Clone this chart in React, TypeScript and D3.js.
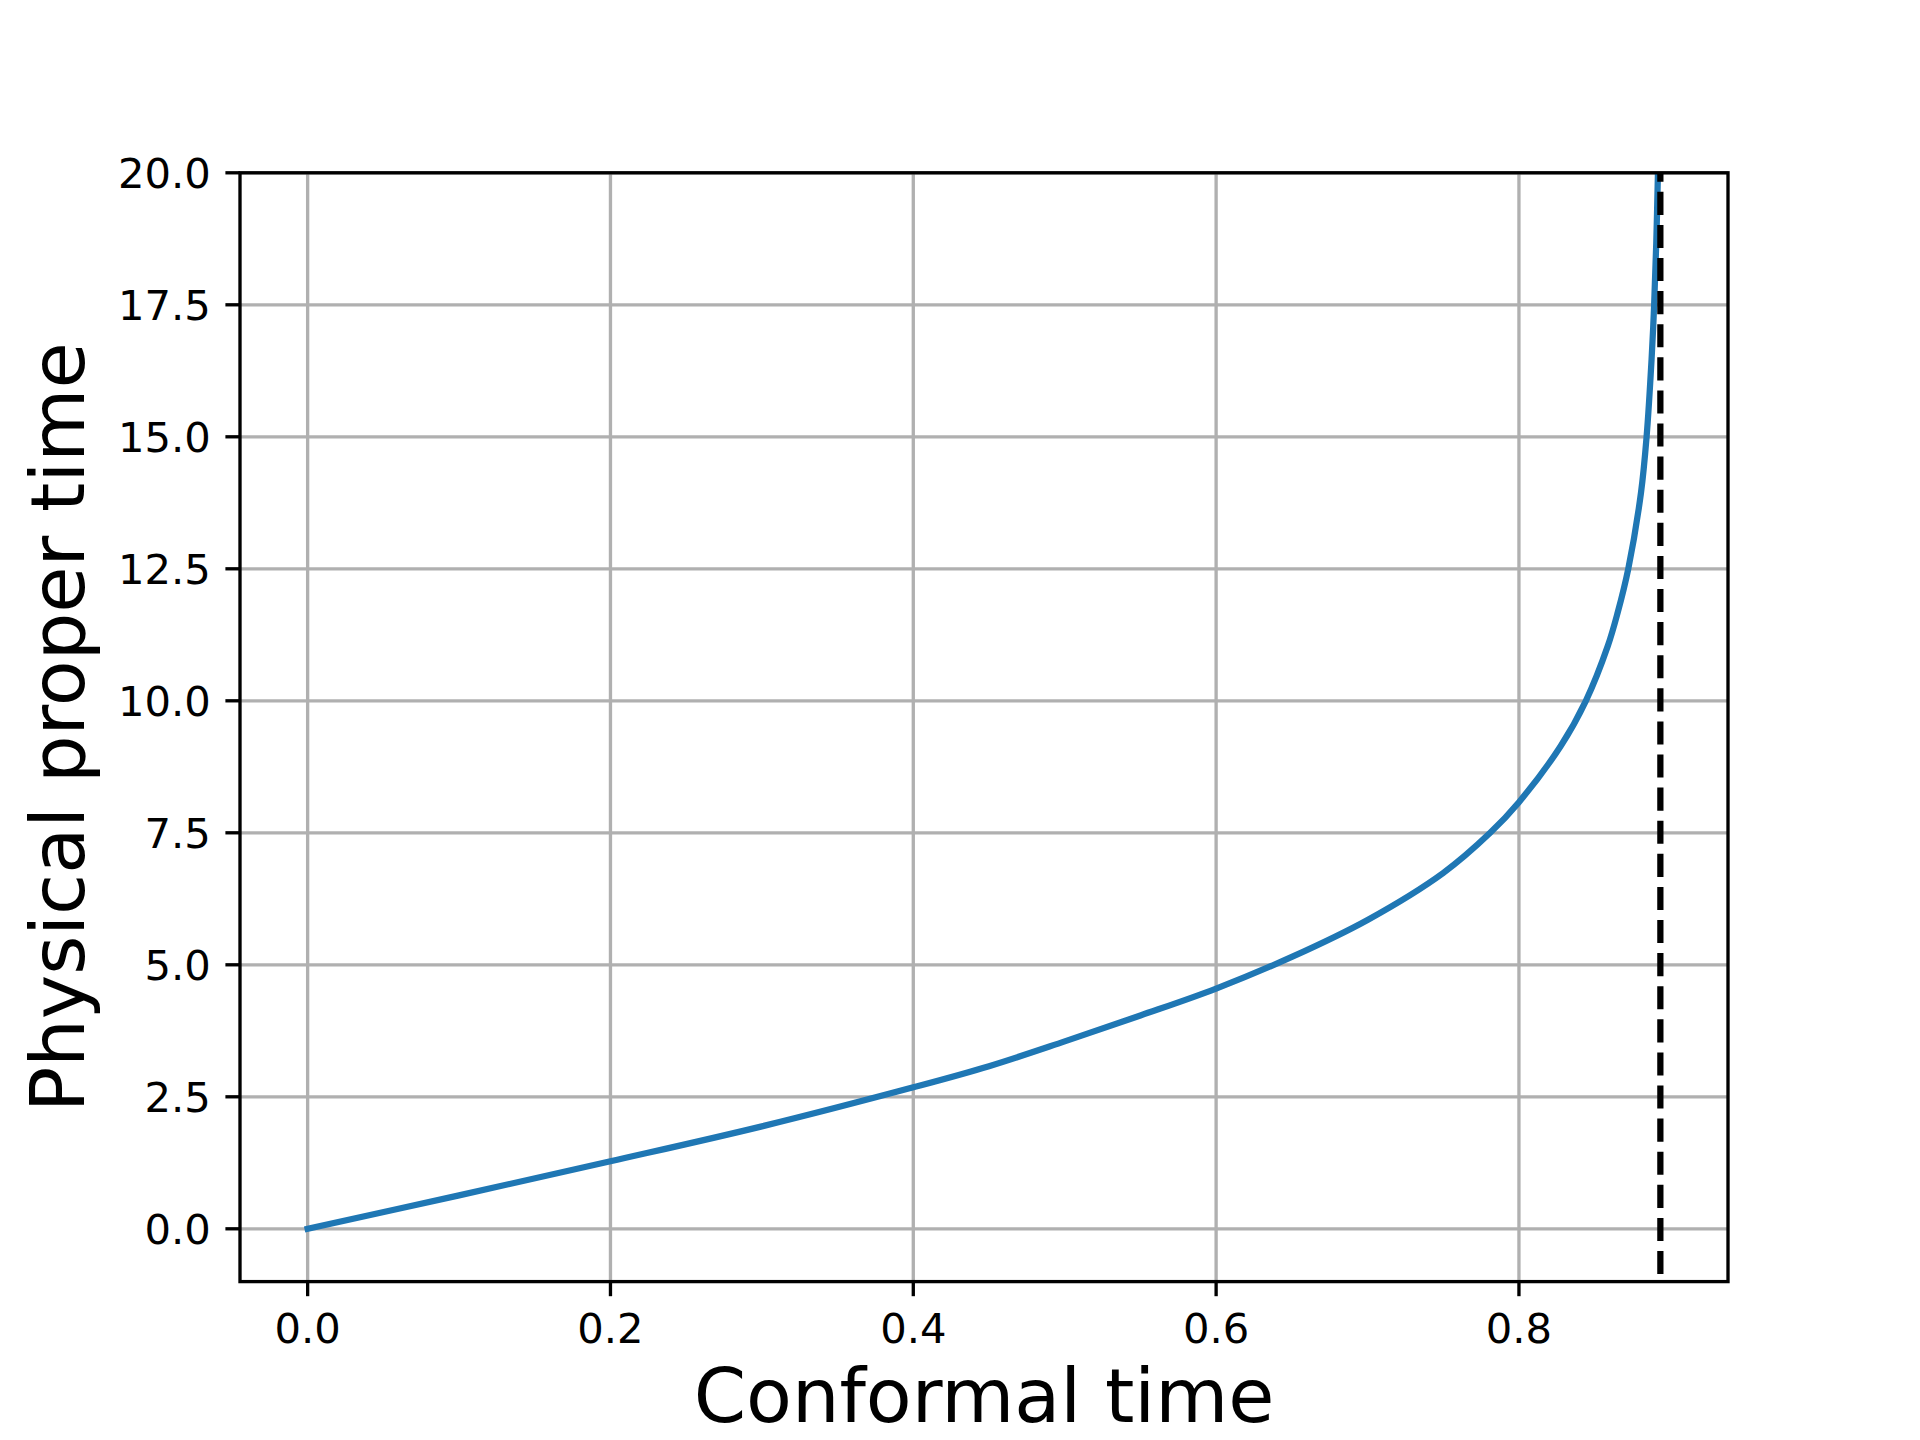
import React from "react";
import * as d3 from "d3";

// Conformal time (x) vs physical proper time (y)
const conformalTime = [
  0, 0.1, 0.2, 0.3, 0.4, 0.45, 0.5, 0.55, 0.6, 0.65, 0.7, 0.75, 0.781, 0.8,
  0.8275, 0.8442, 0.8587, 0.8652, 0.8722, 0.8806, 0.8843, 0.8876, 0.8893,
  0.8907, 0.8918,
];
const properTime = [
  0, 0.633, 1.278, 1.94, 2.68, 3.08, 3.55, 4.04, 4.55, 5.15, 5.85, 6.74, 7.5, 8.08,
  9.14, 10.0, 11.04, 11.67, 12.5, 13.94, 15.0, 16.47, 17.5, 18.68, 20.0,
];
const asymptoteX = 0.8934;
const xTicks = [0.0, 0.2, 0.4, 0.6, 0.8];
const yTicks = [0.0, 2.5, 5.0, 7.5, 10.0, 12.5, 15.0, 17.5, 20.0];
const xLabel = "Conformal time";
const yLabel = "Physical proper time";

const W = 1920;
const H = 1440;
const left = 240;
const right = 1728;
const top = 172.8;
const bottom = 1281.6;
const xMax = 0.8934;
const FONT = "'DejaVu Sans', sans-serif";

export default function App() {
  const x = d3.scaleLinear().domain([-0.05 * xMax, 1.05 * xMax]).range([left, right]);
  const y = d3.scaleLinear().domain([-1, 20]).range([bottom, top]);
  const pts: [number, number][] = conformalTime.map((c, i) => [c, properTime[i]]);
  const line = d3
    .line<[number, number]>()
    .x((d) => x(d[0]))
    .y((d) => y(d[1]))
    .curve(d3.curveCatmullRom.alpha(0.5));

  const lw = 3.33;
  const tickLen = 14.6;
  const period = 33.1;
  const dashOffset = 14.1;

  return (
    <div style={{ position: "absolute", left: 0, top: 0 }}>
      <svg width={W} height={H} style={{ display: "block", background: "#fff" }}>
        <defs>
          <clipPath id="plotClip">
            <rect x={left} y={top} width={right - left} height={bottom - top} />
          </clipPath>
        </defs>
        <rect x={0} y={0} width={W} height={H} fill="#fff" />
        <g stroke="#b0b0b0" strokeWidth={lw}>
          {xTicks.map((t) => (
            <line key={"gx" + t} x1={x(t)} x2={x(t)} y1={top} y2={bottom} />
          ))}
          {yTicks.map((t) => (
            <line key={"gy" + t} x1={left} x2={right} y1={y(t)} y2={y(t)} />
          ))}
        </g>
        <g clipPath="url(#plotClip)">
          <path
            d={line(pts) || ""}
            fill="none"
            stroke="#1f77b4"
            strokeWidth={6.25}
            strokeLinecap="square"
            strokeLinejoin="round"
          />
          <line
            x1={x(asymptoteX)}
            x2={x(asymptoteX)}
            y1={top}
            y2={bottom}
            stroke="#000"
            strokeWidth={6.25}
            strokeDasharray={`23.1 ${period - 23.1}`}
            strokeDashoffset={dashOffset}
          />
        </g>
        <rect
          x={left}
          y={top}
          width={right - left}
          height={bottom - top}
          fill="none"
          stroke="#000"
          strokeWidth={lw}
          strokeLinejoin="miter"
        />
        <g>
          {xTicks.map((t) => (
            <g key={"xt" + t}>
              <line x1={x(t)} x2={x(t)} y1={bottom} y2={bottom + tickLen} stroke="#000" strokeWidth={lw} />
              <text x={x(t)} y={1343} textAnchor="middle" fontFamily={FONT} fontSize={41.7} fill="#000">
                {t.toFixed(1)}
              </text>
            </g>
          ))}
        </g>
        <g>
          {yTicks.map((t) => (
            <g key={"yt" + t}>
              <line x1={left - tickLen} x2={left} y1={y(t)} y2={y(t)} stroke="#000" strokeWidth={lw} />
              <text x={210.8} y={y(t) + 15.2} textAnchor="end" fontFamily={FONT} fontSize={41.7} fill="#000">
                {t.toFixed(1)}
              </text>
            </g>
          ))}
        </g>
        <text x={(left + right) / 2} y={1422} textAnchor="middle" fontFamily={FONT} fontSize={75} fill="#000">
          {xLabel}
        </text>
        <text
          transform={`translate(83.5, ${(top + bottom) / 2}) rotate(-90)`}
          textAnchor="middle"
          fontFamily={FONT}
          fontSize={75}
          fill="#000"
        >
          {yLabel}
        </text>
      </svg>
    </div>
  );
}
